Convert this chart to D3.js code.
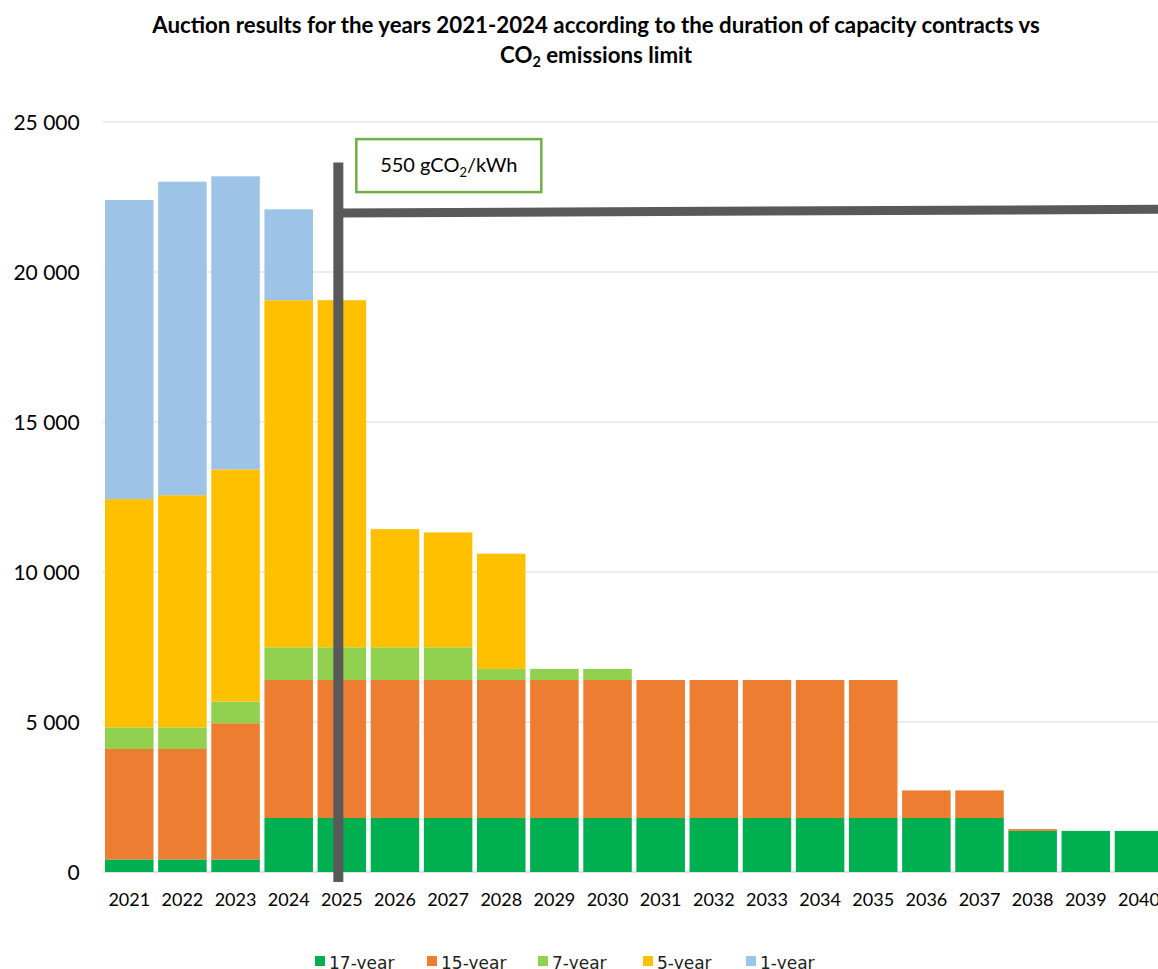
<!DOCTYPE html>
<html>
<head>
<meta charset="utf-8">
<script src="https://cdn.jsdelivr.net/npm/d3@7"></script>
<style>
body { margin: 0; background: #fff; }
svg { display: block; }
</style>
</head>
<body>
<script>
// data
var years = ["2021", "2022", "2023", "2024", "2025", "2026", "2027", "2028", "2029", "2030",
    "2031", "2032", "2033", "2034", "2035", "2036", "2037", "2038", "2039", "2040"];
var seriesNames = ["17-year", "15-year", "7-year", "5-year", "1-year"];
var seriesColors = ["#00b050", "#ed7d31", "#92d050", "#ffc000", "#9dc3e6"];
var v17 = [420, 420, 420, 1800, 1800, 1800, 1800, 1800, 1800, 1800, 1800, 1800, 1800, 1800, 1800, 1800, 1800, 1370, 1370, 1370];
var v15 = [3680, 3680, 4540, 4600, 4600, 4600, 4600, 4600, 4600, 4600, 4600, 4600, 4600, 4600, 4600, 920, 920, 60, 0, 0];
var v7 = [720, 720, 720, 1090, 1090, 1090, 1090, 370, 370, 370, 0, 0, 0, 0, 0, 0, 0, 0, 0, 0];
var v5 = [7610, 7740, 7740, 11570, 11570, 3940, 3830, 3840, 0, 0, 0, 0, 0, 0, 0, 0, 0, 0, 0, 0];
var v1 = [9970, 10450, 9770, 3030, 0, 0, 0, 0, 0, 0, 0, 0, 0, 0, 0, 0, 0, 0, 0, 0];
var yTicks = [0, 5000, 10000, 15000, 20000, 25000];
// emissions limit marker (value at left / right end of the line)
var limitYear = "2025";
var limitStart = 21970, limitEnd = 22090;
var markerTop = 23650;

var W = 1158, H = 969;
var svg = d3.select("body").append("svg").attr("width", W).attr("height", H);

var x = d3.scaleBand().domain(years).range([102.7, 1165.5]).paddingInner(0.087).paddingOuter(0.0435);
var y = d3.scaleLinear().domain([0, 25000]).range([872, 122]);

// gridlines
svg.append("g").selectAll("line").data(yTicks).join("line")
    .attr("x1", 102.7).attr("x2", W)
    .attr("y1", d => y(d)).attr("y2", d => y(d))
    .attr("stroke", "#d9d9d9").attr("stroke-width", d => d == 0 ? 1.5 : 1);

// stacked bars
var table = years.map((yr, i) => ({ year: yr, "17-year": v17[i], "15-year": v15[i], "7-year": v7[i], "5-year": v5[i], "1-year": v1[i] }));
var stacked = d3.stack().keys(seriesNames)(table);
svg.append("g").selectAll("g").data(stacked).join("g")
    .attr("fill", (d, i) => seriesColors[i])
    .selectAll("rect").data(d => d.filter(s => s[1] - s[0] > 0)).join("rect")
    .attr("x", d => x(d.data.year))
    .attr("width", x.bandwidth())
    .attr("y", d => y(d[1]))
    .attr("height", d => y(d[0]) - y(d[1]));

// y axis
var fmt = d3.format(",");
var yAxis = svg.append("g").attr("transform", "translate(102.7,0)")
    .call(d3.axisLeft(y).tickValues(yTicks).tickSize(0).tickPadding(23).tickFormat(d => fmt(d).replace(/,/g, " ")));
yAxis.select(".domain").remove();
yAxis.selectAll("text").attr("font-family", "Lato, sans-serif").attr("font-size", 21).attr("fill", "#000").attr("dy", "0.36em");

// x axis
var xAxis = svg.append("g").attr("transform", "translate(0,872)")
    .call(d3.axisBottom(x).tickSize(0).tickPadding(21));
xAxis.select(".domain").remove();
xAxis.selectAll("text").attr("font-family", "Lato, sans-serif").attr("font-size", 18).attr("fill", "#000");

// limit marker
var lx = x(limitYear) + x.bandwidth() / 2 - 3.5;
svg.append("line")
    .attr("x1", lx).attr("x2", lx)
    .attr("y1", y(markerTop)).attr("y2", y(0) + 10)
    .attr("stroke", "#595959").attr("stroke-width", 10);
svg.append("line")
    .attr("x1", lx).attr("x2", 1165.5)
    .attr("y1", y(limitStart)).attr("y2", y(limitEnd))
    .attr("stroke", "#595959").attr("stroke-width", 9);

// label box
var bx = lx + 18, by = y(24430);
svg.append("rect")
    .attr("x", bx).attr("y", by).attr("width", 185).attr("height", 53)
    .attr("fill", "#fff").attr("stroke", "#70ad47").attr("stroke-width", 2.5);
var lab = svg.append("text")
    .attr("x", bx + 92.5).attr("y", by + 33).attr("text-anchor", "middle")
    .attr("font-family", "Lato, sans-serif").attr("font-size", 20).attr("fill", "#000");
lab.append("tspan").text("550 gCO");
lab.append("tspan").attr("font-size", 13).attr("dy", 5).text("2");
lab.append("tspan").attr("dy", -5).text("/kWh");

// title
var t1 = svg.append("text")
    .attr("x", 596).attr("y", 33).attr("text-anchor", "middle")
    .attr("font-family", "Lato, sans-serif").attr("font-weight", "bold").attr("font-size", 18)
    .text("Auction results for the years 2021-2024 according to the duration of capacity contracts vs");
var w1 = t1.node().getComputedTextLength();
var fs = 18 * 888 / w1;
t1.attr("font-size", fs);
var t2 = svg.append("text")
    .attr("x", 596).attr("y", 63).attr("text-anchor", "middle")
    .attr("font-family", "Lato, sans-serif").attr("font-weight", "bold").attr("font-size", fs);
t2.append("tspan").text("CO");
t2.append("tspan").attr("font-size", fs * 0.65).attr("dy", 4).text("2");
t2.append("tspan").attr("dy", -4).text(" emissions limit");

// legend
var legX = [315, 427, 538, 643, 746];
var leg = svg.append("g").selectAll("g").data(seriesNames).join("g")
    .attr("transform", (d, i) => "translate(" + legX[i] + ",956)");
leg.append("rect").attr("width", 10).attr("height", 10).attr("fill", (d, i) => seriesColors[i]);
leg.append("text").attr("x", 14).attr("y", 12.5)
    .attr("font-family", "DejaVu Sans, sans-serif").attr("font-size", 17).attr("fill", "#222")
    .text(d => d);
</script>
</body>
</html>
